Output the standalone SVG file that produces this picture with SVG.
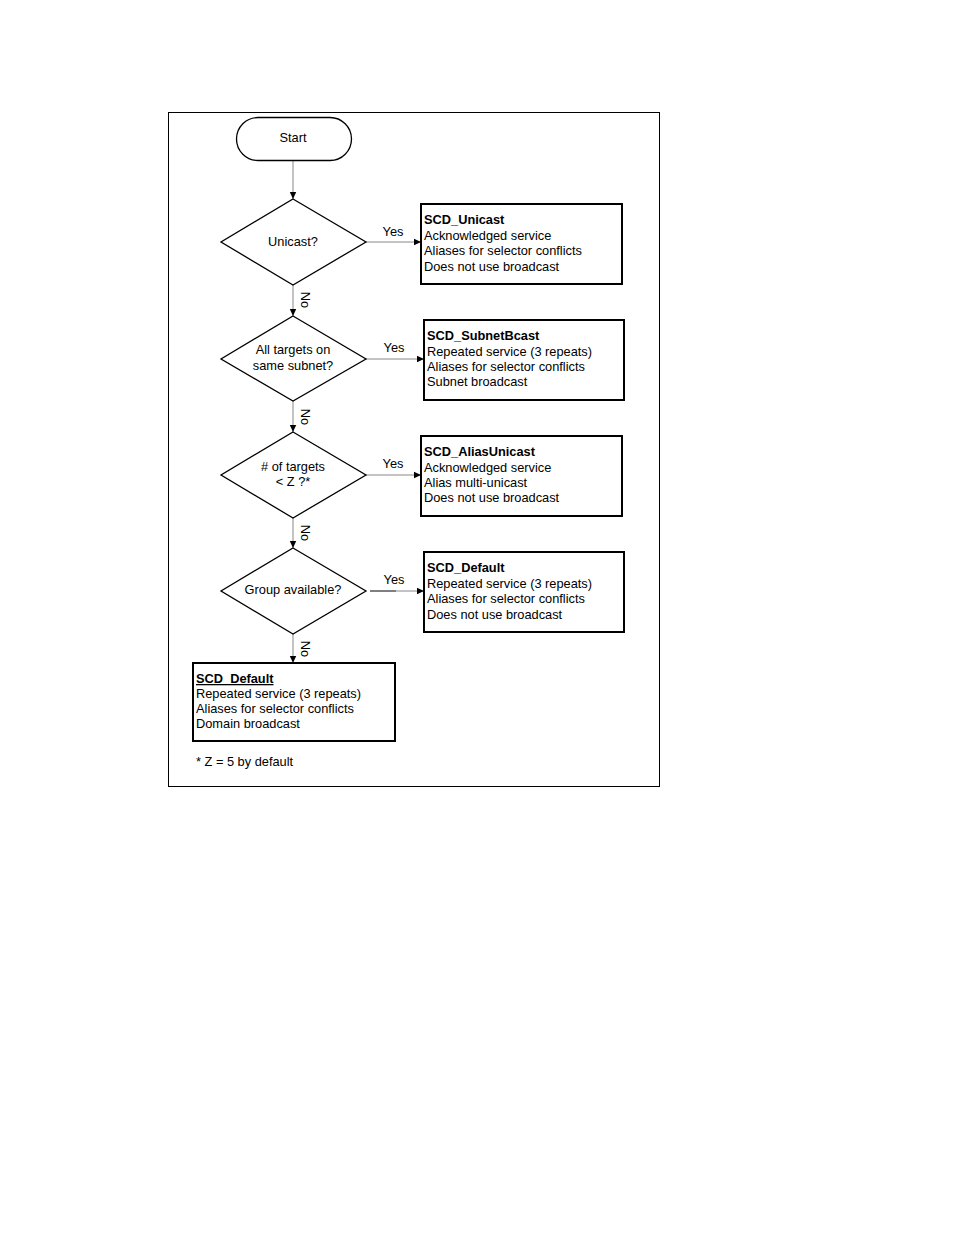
<svg xmlns="http://www.w3.org/2000/svg" width="954" height="1235" viewBox="0 0 954 1235">
<style>
text{font-family:"Liberation Sans",Arial,sans-serif;font-size:12.8px;fill:#000}
.c{text-anchor:middle}
.b{font-weight:bold}
.box{fill:#fff;stroke:#000;stroke-width:2}
.dia{fill:#fff;stroke:#000;stroke-width:1.3}
.ln{stroke:#888;stroke-width:1;fill:none}
</style>
<defs>
<marker id="ar" markerWidth="8" markerHeight="8" refX="7" refY="4" orient="auto" markerUnits="userSpaceOnUse">
<path d="M0,0.8 L7,4 L0,7.2 Z" fill="#000"/>
</marker>
</defs>
<rect x="168.5" y="112.5" width="491" height="674" fill="#fff" stroke="#000" stroke-width="1"/>
<g id="connectors">
<line class="ln" x1="293" y1="160" x2="293" y2="199" marker-end="url(#ar)"/>
<line class="ln" x1="366" y1="242" x2="421" y2="242" marker-end="url(#ar)"/>
<text x="393" y="236" class="c">Yes</text>
<line class="ln" x1="293" y1="285" x2="293" y2="316" marker-end="url(#ar)"/>
<text transform="translate(301,300) rotate(90)" class="c">No</text>
<line class="ln" x1="366" y1="359" x2="424" y2="359" marker-end="url(#ar)"/>
<text x="394" y="352" class="c">Yes</text>
<line class="ln" x1="293" y1="401" x2="293" y2="432" marker-end="url(#ar)"/>
<text transform="translate(301,417) rotate(90)" class="c">No</text>
<line class="ln" x1="366" y1="475" x2="421" y2="475" marker-end="url(#ar)"/>
<text x="393" y="468" class="c">Yes</text>
<line class="ln" x1="293" y1="518" x2="293" y2="548" marker-end="url(#ar)"/>
<text transform="translate(301,533) rotate(90)" class="c">No</text>
<line x1="370" y1="591" x2="396" y2="591" stroke="#000" stroke-width="1"/>
<line class="ln" x1="396" y1="591" x2="424" y2="591" marker-end="url(#ar)"/>
<text x="394" y="584" class="c">Yes</text>
<line class="ln" x1="293" y1="634" x2="293" y2="663" marker-end="url(#ar)"/>
<text transform="translate(301,649) rotate(90)" class="c">No</text>
</g>
<g id="start">
<rect x="236.5" y="117.5" width="115" height="43" rx="21.5" fill="#fff" stroke="#000" stroke-width="1.3"/>
<text x="293" y="142" class="c">Start</text>
</g>
<g id="d1">
<polygon class="dia" points="293,199 366,242 293,285 221,242"/>
<text x="293" y="246" class="c">Unicast?</text>
</g>
<g id="b1">
<rect class="box" x="421" y="204" width="201" height="80"/>
<text x="424" y="224" class="b">SCD_Unicast</text>
<text x="424" y="240">Acknowledged service</text>
<text x="424" y="255">Aliases for selector conflicts</text>
<text x="424" y="271">Does not use broadcast</text>
</g>
<g id="d2">
<polygon class="dia" points="293,316 366,359 293,401 221,359"/>
<text x="293" y="354" class="c">All targets on</text>
<text x="293" y="370" class="c">same subnet?</text>
</g>
<g id="b2">
<rect class="box" x="424" y="320" width="200" height="80"/>
<text x="427" y="340" class="b">SCD_SubnetBcast</text>
<text x="427" y="356">Repeated service (3 repeats)</text>
<text x="427" y="371">Aliases for selector conflicts</text>
<text x="427" y="386">Subnet broadcast</text>
</g>
<g id="d3">
<polygon class="dia" points="293,432 366,475 293,518 221,475"/>
<text x="293" y="471" class="c"># of targets</text>
<text x="293" y="486" class="c">&lt; Z ?*</text>
</g>
<g id="b3">
<rect class="box" x="421" y="436" width="201" height="80"/>
<text x="424" y="456" class="b">SCD_AliasUnicast</text>
<text x="424" y="472">Acknowledged service</text>
<text x="424" y="487">Alias multi-unicast</text>
<text x="424" y="502">Does not use broadcast</text>
</g>
<g id="d4">
<polygon class="dia" points="293,548 366,591 293,634 221,591"/>
<text x="293" y="594" class="c">Group available?</text>
</g>
<g id="b4">
<rect class="box" x="424" y="552" width="200" height="80"/>
<text x="427" y="572" class="b">SCD_Default</text>
<text x="427" y="588">Repeated service (3 repeats)</text>
<text x="427" y="603">Aliases for selector conflicts</text>
<text x="427" y="619">Does not use broadcast</text>
</g>
<g id="b5">
<rect class="box" x="193" y="663" width="202" height="78"/>
<text x="196" y="683" class="b" text-decoration="underline">SCD_Default</text>
<text x="196" y="698">Repeated service (3 repeats)</text>
<text x="196" y="713">Aliases for selector conflicts</text>
<text x="196" y="728">Domain broadcast</text>
</g>
<g id="note">
<text x="196" y="766">* Z = 5 by default</text>
</g>
</svg>
